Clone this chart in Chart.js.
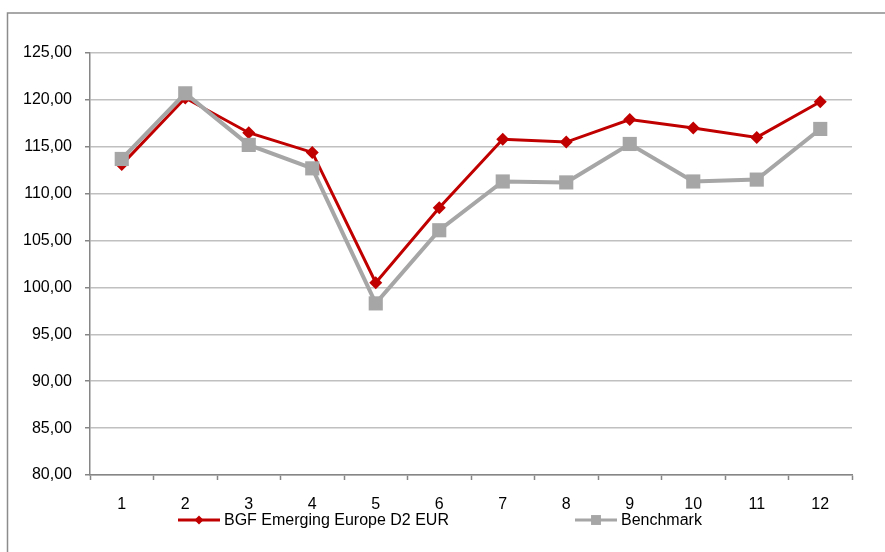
<!DOCTYPE html>
<html>
<head>
<meta charset="utf-8">
<script src="https://cdn.jsdelivr.net/npm/chart.js@4.4.1/dist/chart.umd.min.js"></script>
<style>
  html, body { margin: 0; padding: 0; background: #fff; }
  #wrap { position: relative; width: 885px; height: 552px; }
</style>
</head>
<body>
<div id="wrap"><canvas id="myChart" width="885" height="552"></canvas></div>
<script>
const months = ['1', '2', '3', '4', '5', '6', '7', '8', '9', '10', '11', '12'];
const fundValues = [113.1, 120.2, 116.5, 114.4, 100.5, 108.5, 115.8, 115.5, 117.9, 117.0, 116.0, 119.8];
const benchmarkValues = [113.7, 120.7, 115.2, 112.7, 98.3, 106.1, 111.3, 111.2, 115.3, 111.3, 111.5, 116.9];
const fundLabel = 'BGF Emerging Europe D2 EUR';
const benchmarkLabel = 'Benchmark';

const fontFamily = '"Liberation Sans", Arial, sans-serif';

// frame round the whole chart, and the legend drawn as line + marker
const framePlugin = {
    id: 'frame',
    beforeDraw(chart) {
        const ctx = chart.ctx;
        ctx.save();
        ctx.strokeStyle = '#8c8c8c';
        ctx.lineWidth = 1.5;
        ctx.strokeRect(7.5, 13, 900, 600);
        ctx.restore();
    }
};

const legendPlugin = {
    id: 'lineLegend',
    afterDraw(chart) {
        const ctx = chart.ctx;
        const items = [
            { ds: chart.data.datasets[1], x: 178, r: 4.5 },
            { ds: chart.data.datasets[0], x: 575, r: 7 }
        ];
        const y = 520;
        ctx.save();
        items.forEach(item => {
            const ds = item.ds;
            ctx.strokeStyle = ds.borderColor;
            ctx.lineWidth = 3;
            ctx.beginPath();
            ctx.moveTo(item.x, y);
            ctx.lineTo(item.x + 42, y);
            ctx.stroke();
            ctx.fillStyle = ds.pointBackgroundColor;
            ctx.strokeStyle = ds.pointBackgroundColor;
            Chart.helpers.drawPoint(ctx, { pointStyle: ds.pointStyle, radius: item.r, borderWidth: 0 }, item.x + 21, y);
            ctx.fillStyle = '#000';
            ctx.font = '16px ' + fontFamily;
            ctx.textBaseline = 'middle';
            ctx.fillText(ds.label, item.x + 46, y + 1);
        });
        ctx.restore();
    }
};

const ctx = document.getElementById('myChart').getContext('2d');
new Chart(ctx, {
    type: 'line',
    data: {
        labels: months,
        datasets: [
            {
                label: benchmarkLabel,
                data: benchmarkValues,
                borderColor: '#a6a6a6',
                borderWidth: 4,
                pointStyle: 'rect',
                pointRadius: 10,
                pointHoverRadius: 10,
                pointBackgroundColor: '#a6a6a6',
                pointBorderWidth: 0,
                tension: 0,
                order: 0
            },
            {
                label: fundLabel,
                data: fundValues,
                borderColor: '#c00000',
                borderWidth: 3,
                pointStyle: 'rectRot',
                pointRadius: 6.5,
                pointHoverRadius: 6.5,
                pointBackgroundColor: '#c00000',
                pointBorderWidth: 0,
                tension: 0,
                order: 1
            }
        ]
    },
    options: {
        responsive: false,
        animation: false,
        layout: { padding: { top: 53, right: 33, bottom: 0, left: 0 } },
        plugins: {
            legend: { display: false },
            tooltip: { enabled: false }
        },
        scales: {
            x: {
                offset: true,
                grid: {
                    offset: true,
                    drawOnChartArea: false,
                    drawTicks: true,
                    tickLength: 5,
                    tickColor: '#868686',
                    tickWidth: 1.5
                },
                border: { color: '#868686', width: 1.5 },
                ticks: {
                    color: '#000',
                    padding: 15,
                    maxRotation: 0,
                    font: { family: fontFamily, size: 16 }
                },
                afterFit(scale) { scale.height = 77; }
            },
            y: {
                min: 80,
                max: 125,
                grid: {
                    color: '#c0c0c0',
                    lineWidth: 1.5,
                    drawTicks: true,
                    tickLength: 5,
                    tickColor: '#868686'
                },
                border: { color: '#868686', width: 1.5 },
                ticks: {
                    stepSize: 5,
                    color: '#000',
                    padding: 13,
                    font: { family: fontFamily, size: 16 },
                    callback: (v) => v.toFixed(2).replace('.', ',')
                },
                afterFit(scale) { scale.width = 90; }
            }
        }
    },
    plugins: [framePlugin, legendPlugin]
});
</script>
</body>
</html>
